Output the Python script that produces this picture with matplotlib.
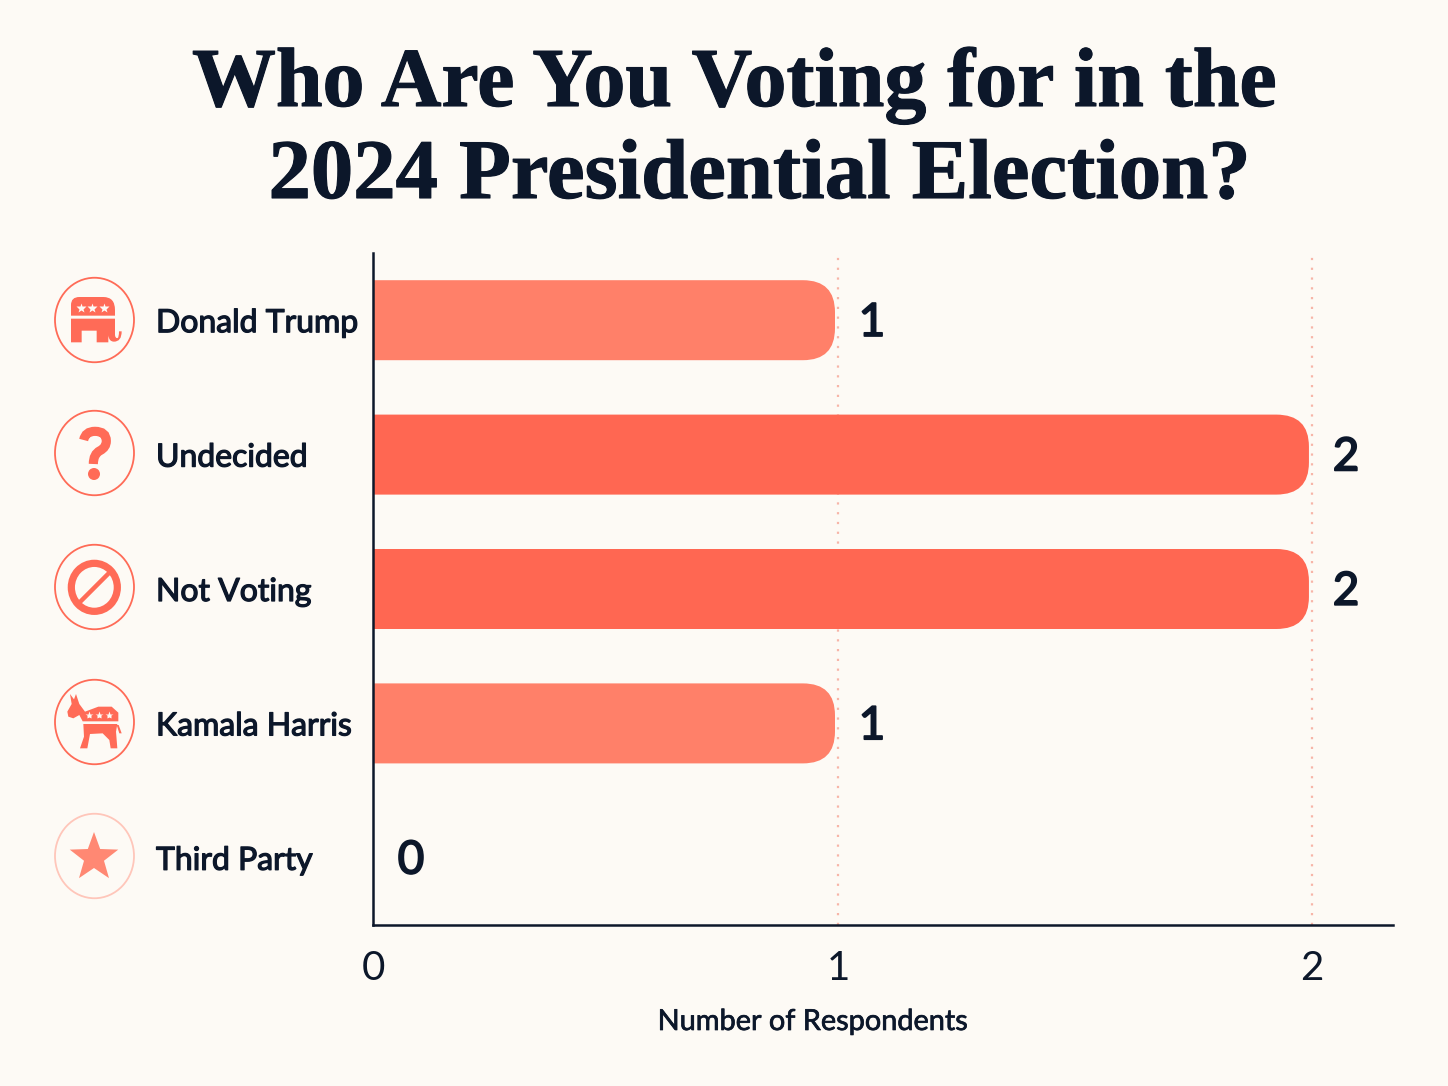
import numpy as np
import matplotlib
matplotlib.use("Agg")
import matplotlib.pyplot as plt
import matplotlib.patheffects as pe
from matplotlib.patches import FancyBboxPatch, Ellipse, PathPatch, Polygon
from matplotlib.path import Path

categories = ["Donald Trump", "Undecided", "Not Voting", "Kamala Harris", "Third Party"]
respondents = [1, 2, 2, 1, 0]
x_ticks = [0, 1, 2]

BG = "#FDFAF5"; INK = "#0C172A"; CORAL = "#FF6B57"; GRID = "#F7B5A8"
bar_colors = {1: "#FF8069", 2: "#FF6752"}
SANS = "Lato"
SERIF = "Liberation Serif"

def heavy(w):
    return [pe.withStroke(linewidth=w, foreground=INK)]

W, H = 1448, 1086
fig = plt.figure(figsize=(W/100, H/100), dpi=100, facecolor=BG)
ax = fig.add_axes([373/W, 1-925/H, (1393-373)/W, (925-253)/H], facecolor="none")

# axis calibrated to the reference: tick spacing is slightly uneven
anch_d = [-1, 0, 1, 2, 3]
anch_p = [-465, 0, 465, 939, 1413]
ax.set_xscale("function", functions=(lambda v: np.interp(v, anch_d, anch_p),
                                     lambda p: np.interp(p, anch_p, anch_d)))
ax.set_xlim(0, 1 + (1020-465)/474)
ax.set_ylim(4.5, -0.5)

for s in ("top", "right"):
    ax.spines[s].set_visible(False)
for s in ("left", "bottom"):
    ax.spines[s].set_color(INK); ax.spines[s].set_linewidth(1.8)

ax.set_xticks(x_ticks)
ax.set_xticklabels([str(t) for t in x_ticks], fontsize=29, color=INK, family=SANS)
ax.tick_params(axis="x", length=0, pad=18)
ax.set_yticks(range(len(categories)))
ax.set_yticklabels(categories, fontsize=23, color=INK, family=SANS, ha="left",
                   path_effects=heavy(0.9))
ax.tick_params(axis="y", length=0, pad=217*0.72)
for t in x_ticks[1:]:
    ax.axvline(t, color=GRID, lw=1.6, ls=(0, (1, 3.4)), zorder=0)

ux, uy = 1/465, 1/134.4
r = 32
gap = 3*ux
for i, v in enumerate(respondents):
    if v <= 0:
        label_x = 38
    else:
        ax.add_patch(FancyBboxPatch((-0.2, i-40*uy), v+0.2-gap, 80*uy,
                     boxstyle=f"round,pad=0,rounding_size={r*ux}",
                     mutation_aspect=uy/ux, fc=bar_colors[v], ec="none", zorder=2))
        label_x = 34
    ax.annotate(str(v), (v, i), xytext=(label_x*0.72, -2), textcoords="offset points",
                ha="center", va="center", fontsize=33, color=INK, family=SANS,
                path_effects=heavy(1.3))

fig.text(812.5/W, 1-1022/H, "Number of Respondents", ha="center", va="center",
         fontsize=20.8, color=INK, family=SANS, path_effects=heavy(0.5))
for txt, cx, base, fs in [("Who Are You Voting for in the", 734.5, 106, 60.4),
                          ("2024 Presidential Election?", 760, 198, 61)]:
    fig.text(cx/W, 1-base/H, txt, ha="center", va="baseline", fontsize=fs,
             fontweight="bold", family=SERIF, color=INK, path_effects=heavy(0.8))

# decorative icons on a pixel overlay
ov = fig.add_axes([0, 0, 1, 1], facecolor="none")
ov.set_xlim(0, W); ov.set_ylim(H, 0); ov.axis("off")

centers = [320, 453, 587, 722, 856]
for cy, ec in zip(centers, [CORAL]*4 + ["#FFC6BA"]):
    ov.add_patch(Ellipse((94.5, cy), 79, 84.5, fc="none", ec=ec, lw=1.3))

def z1(x, y): return (40+x/3, 260+y/3)
def z2(x, y): return (40+x/3, 530+y/3)
def poly(pts, conv, fc=CORAL):
    ov.add_patch(Polygon([conv(*p) for p in pts], closed=True, fc=fc, ec="none"))
def stars(pts, conv, ms=7.5):
    for p in pts:
        c = conv(*p)
        ov.plot(*c, marker="*", ms=ms, mfc=BG, mec="none")
def curve(conv, cmds, fc=CORAL):
    v = [conv(*p) for p, _ in cmds]; c = [k for _, k in cmds]
    ov.add_patch(PathPatch(Path(v, c), fc=fc, ec="none"))
M, L, C3, Z = Path.MOVETO, Path.LINETO, Path.CURVE3, Path.CLOSEPOLY

# elephant
curve(z1, [((93,167),M),((93,135),L),((93,111),C3),((118,111),C3),((190,111),L),
           ((225,111),C3),((225,150),C3),((225,167),L),((93,167),Z)])
curve(z1, [((93,176),M),((225,176),L),((225,225),L),((226,236),C3),((233,234),C3),
           ((237,232),C3),((237,214),C3),((245,214),L),((245,245),C3),((222,245),C3),
           ((207,245),C3),((205,226),C3),((205,247),L),((170,247),L),((170,212),L),
           ((125,212),L),((125,247),L),((93,247),L),((93,176),Z)])
stars([(123,143),(157,143),(193,143)], z1, ms=7)

# question mark
qv = [z1(131,540), z1(136,514), z1(165,514), z1(199,514), z1(199,543), z1(199,562),
      z1(180,572), z1(160,582), z1(160,612)]
ov.add_patch(PathPatch(Path(qv, [M, C3, C3, C3, C3, C3, C3, C3, C3]), fc="none", ec=CORAL, lw=6.6, capstyle="butt"))
ov.add_patch(Ellipse(z1(162,642), 12, 12, fc=CORAL, ec="none"))

# no sign
ov.add_patch(Ellipse(z2(163,172), 46, 48, fc="none", ec=CORAL, lw=5.2))
ov.plot(*zip(z2(118,218), z2(208,128)), color=CORAL, lw=3.2, solid_capstyle="butt")

# donkey
poly([(90,492),(102,508),(108,492),(118,522),(135,545),(175,530),(215,530),(235,548),(235,574),
      (128,574),(118,555),(100,565),(85,560),(82,545),(95,522)], z2)
poly([(130,582),(232,582),(228,605),(232,655),(212,655),(208,630),(188,610),(150,612),(142,655),(120,655),(132,620)], z2)
poly([(230,585),(236,585),(245,610),(238,610)], z2)
stars([(147,556),(177,556),(207,556)], z2, ms=6)

# star
sx, sy = 94, 857.5
ang = np.deg2rad(np.arange(10)*36 - 90)
rad = np.where(np.arange(10) % 2 == 0, 25.5, 10.5)
ov.add_patch(Polygon(np.c_[sx+rad*np.cos(ang), sy+rad*np.sin(ang)], closed=True, fc="#FF8873", ec="none"))

fig.savefig("out.png", dpi=100, facecolor=BG)
